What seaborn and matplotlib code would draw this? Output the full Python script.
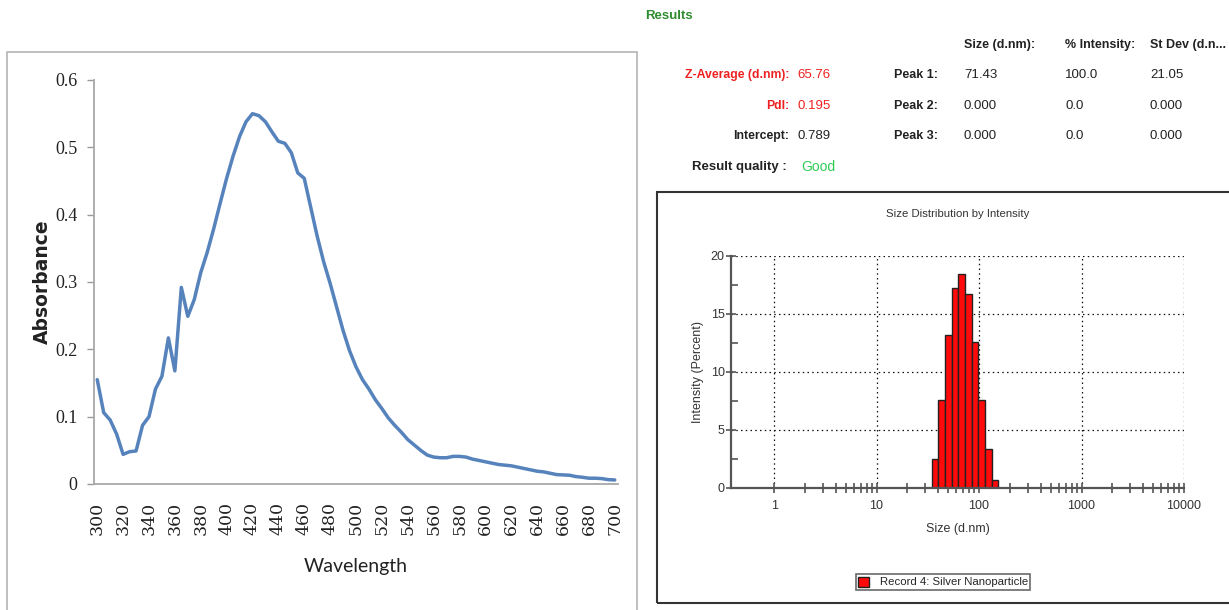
import numpy as np
import pandas as pd
import matplotlib
matplotlib.use('Agg')
import matplotlib.pyplot as plt
import matplotlib.ticker as mticker
from matplotlib.patches import Rectangle
import seaborn as sns

# UV-vis spectrum
wavelength = [300, 305, 310, 315, 320, 325, 330, 335, 340, 345, 350, 355, 360, 365, 370,
              375, 380, 385, 390, 395, 400, 405, 410, 415, 420, 425, 430, 435, 440, 445,
              450, 455, 460, 465, 470, 475, 480, 485, 490, 495, 500, 505, 510, 515, 520,
              525, 530, 535, 540, 545, 550, 555, 560, 565, 570, 575, 580, 585, 590, 595,
              600, 605, 610, 615, 620, 625, 630, 635, 640, 645, 650, 655, 660, 665, 670,
              675, 680, 685, 690, 695, 700]
absorbance = [0.155, 0.106, 0.095, 0.074, 0.044, 0.048, 0.049, 0.087, 0.100, 0.141,
              0.160, 0.217, 0.168, 0.292, 0.249, 0.274, 0.314, 0.344, 0.379, 0.417,
              0.454, 0.487, 0.516, 0.538, 0.550, 0.547, 0.538, 0.523, 0.509, 0.506,
              0.492, 0.462, 0.454, 0.411, 0.368, 0.330, 0.298, 0.263, 0.228, 0.198,
              0.174, 0.155, 0.141, 0.125, 0.112, 0.098, 0.087, 0.077, 0.066, 0.058,
              0.050, 0.043, 0.040, 0.039, 0.039, 0.041, 0.041, 0.040, 0.037, 0.035,
              0.033, 0.031, 0.029, 0.028, 0.027, 0.025, 0.023, 0.021, 0.019, 0.018,
              0.016, 0.014, 0.0135, 0.013, 0.011, 0.010, 0.0086, 0.0086, 0.008, 0.0065,
              0.006]
wl_ticks = [300, 320, 340, 360, 380, 400, 420, 440, 460, 480, 500, 520, 540, 560,
            580, 600, 620, 640, 660, 680, 700]
abs_ticks = [0, 0.1, 0.2, 0.3, 0.4, 0.5, 0.6]
abs_ticklabels = ['0', '0.1', '0.2', '0.3', '0.4', '0.5', '0.6']

# DLS size distribution
bin_edges = [34.6, 40.2, 46.7, 54.1, 62.8, 72.9, 84.7, 98.4, 114.0, 132.4, 153.8]
size_nm = [37.3, 43.3, 50.3, 58.3, 67.7, 78.6, 91.3, 105.9, 122.9, 142.7]
intensity = [2.54, 7.62, 13.19, 17.2, 18.47, 16.71, 12.61, 7.62, 3.32, 0.69]
size_ticks = [1, 10, 100, 1000, 10000]
size_ticklabels = ['1', '10', '100', '1000', '10000']
int_ticks = [0, 5, 10, 15, 20]

# results table
row_labels = ['Z-Average (d.nm):', 'PdI:', 'Intercept:']
row_values = ['65.76', '0.195', '0.789']
row_colors = ['#ee2020', '#ee2020', '#222222']
col_headers = ['Size (d.nm):', '% Intensity:', 'St Dev (d.n...']
peak_labels = ['Peak 1:', 'Peak 2:', 'Peak 3:']
peak_size = ['71.43', '0.000', '0.000']
peak_int = ['100.0', '0.0', '0.0']
peak_sd = ['21.05', '0.000', '0.000']

sns.set_style('ticks')
sans = ['Liberation Sans', 'DejaVu Sans']

W, H = 1229, 610
fig = plt.figure(figsize=(W / 100, H / 100), dpi=100)


def fx(px):
    return px / W


def fy(py):
    return 1 - py / H


# ---- left panel: absorbance
fig.patches.append(Rectangle((fx(7), fy(640)), fx(637) - fx(7), fy(52) - fy(640),
                             transform=fig.transFigure, fill=False,
                             edgecolor='#b4b4b4', lw=1.2))

ax1 = fig.add_axes([fx(94), fy(484), fx(618) - fx(94), fy(80) - fy(484)])
df = pd.DataFrame({'wl': wavelength, 'abs': absorbance})
sns.lineplot(data=df, x='wl', y='abs', ax=ax1, color='#5783bd', lw=2.5)
ax1.set_xlim(297.5, 702.5)
ax1.set_ylim(0, 0.6)
ax1.set_xticks(wl_ticks)
ax1.set_xticklabels([str(t) for t in wl_ticks], rotation=90, family='DejaVu Serif',
                    fontsize=12.5, color='#222222')
ax1.set_yticks(abs_ticks)
ax1.set_yticklabels(abs_ticklabels, family='Liberation Serif', fontsize=13,
                    color='#222222')
ax1.tick_params(axis='x', length=0, pad=13)
ax1.tick_params(axis='y', length=5, width=1, color='#999999', pad=7)
for s in ['top', 'right']:
    ax1.spines[s].set_visible(False)
for s in ['left', 'bottom']:
    ax1.spines[s].set_color('#a8a8a8')
    ax1.spines[s].set_linewidth(1.3)
ax1.set_xlabel('Wavelength', family='Lato', fontsize=14, color='#222222', labelpad=16)
ax1.set_ylabel('Absorbance', family='DejaVu Sans', fontweight='bold', fontsize=13.5,
               color='#222222', labelpad=2)

# ---- right panel: results text
fs = 9.5
fig.text(fx(645), fy(16), 'Results', color='#2e8b2e', fontsize=9.5, family=sans,
         fontweight='bold', va='center')
for x, t in zip([964, 1065, 1150], col_headers):
    fig.text(fx(x), fy(45), t, fontsize=9, family=sans, fontweight='bold',
             color='#222222', va='center')
rows_y = [75, 106, 136]
for i, y in enumerate(rows_y):
    fig.text(fx(789), fy(y), row_labels[i], ha='right', va='center', fontsize=8.8,
             family=sans, fontweight='bold', color=row_colors[i])
    fig.text(fx(797), fy(y), row_values[i], ha='left', va='center', fontsize=fs,
             family=sans, color=row_colors[i])
    fig.text(fx(938), fy(y), peak_labels[i], ha='right', va='center', fontsize=9,
             family=sans, fontweight='bold', color='#222222')
    fig.text(fx(964), fy(y), peak_size[i], va='center', fontsize=fs, family=sans,
             color='#222222')
    fig.text(fx(1065), fy(y), peak_int[i], va='center', fontsize=fs, family=sans,
             color='#222222')
    fig.text(fx(1150), fy(y), peak_sd[i], va='center', fontsize=fs, family=sans,
             color='#222222')
fig.text(fx(787), fy(167), 'Result quality :', ha='right', va='center', fontsize=9.5,
         family=sans, fontweight='bold', color='#222222')
fig.text(fx(801), fy(167), 'Good', ha='left', va='center', fontsize=10,
         family=sans, color='#2ecc55')

# ---- right panel: size distribution
fig.patches.append(Rectangle((fx(657), fy(603)), fx(1240) - fx(657), fy(192) - fy(603),
                             transform=fig.transFigure, fill=False,
                             edgecolor='#333333', lw=1.5))

ax2 = fig.add_axes([fx(731), fy(488), fx(1184) - fx(731), fy(256) - fy(488)])
sns.histplot(x=size_nm, weights=intensity, bins=list(np.log10(bin_edges)),
             log_scale=True, stat='count', color='#ff0a0a', alpha=1,
             edgecolor='#222222', linewidth=1, ax=ax2)
ax2.set_xlim(0.38, 10000)
ax2.set_ylim(0, 20)
ax2.set_xticks(size_ticks)
ax2.set_xticklabels(size_ticklabels)
minor_x = [m * 10 ** e for e in range(4) for m in range(2, 10)]
ax2.xaxis.set_minor_locator(mticker.FixedLocator(minor_x))
ax2.xaxis.set_minor_formatter(mticker.NullFormatter())
ax2.set_yticks(int_ticks)
ax2.yaxis.set_minor_locator(mticker.MultipleLocator(2.5))
ax2.grid(True, which='major', color='#111111', linestyle=(0, (1.2, 2.6)), lw=0.9)
ax2.set_axisbelow(True)
for s in ['top', 'right']:
    ax2.spines[s].set_visible(False)
for s in ['left', 'bottom']:
    ax2.spines[s].set_color('#555555')
    ax2.spines[s].set_linewidth(1.6)
ax2.tick_params(axis='x', which='both', direction='inout', length=7, width=1.2,
                color='#555555', labelsize=9, labelcolor='#333333', pad=5)
ax2.tick_params(axis='y', which='major', direction='inout', length=7, width=1.2,
                color='#555555', labelsize=9, labelcolor='#333333', pad=1)
ax2.tick_params(axis='y', which='minor', direction='in', length=5, width=1.2,
                color='#555555')
for lab in ax2.get_xticklabels() + ax2.get_yticklabels():
    lab.set_family(sans)
ax2.set_xlabel('Size (d.nm)', family=sans, fontsize=9, color='#333333', labelpad=8)
ax2.set_ylabel('Intensity (Percent)', family=sans, fontsize=9, color='#333333',
               labelpad=5)
ax2.set_title('Size Distribution by Intensity', family=sans, fontsize=8.2,
              color='#333333', pad=28)

leg = fig.legend(handles=ax2.patches[:1], labels=['Record 4: Silver Nanoparticle'],
                 loc='center', bbox_to_anchor=(fx(943), fy(582)), frameon=True,
                 fancybox=False, prop={'family': sans, 'size': 8.2},
                 handlelength=1.0, handleheight=1.0, borderpad=0.2, handletextpad=0.9,
                 borderaxespad=0)
leg.get_frame().set_edgecolor('#444444')
leg.get_frame().set_linewidth(1.2)

fig.savefig('out.png', dpi=100)
